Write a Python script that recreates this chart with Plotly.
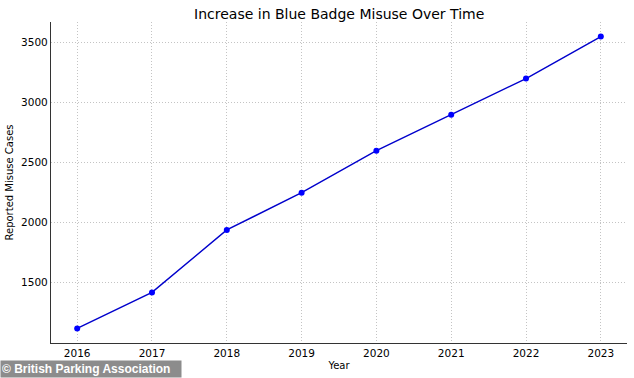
import plotly.graph_objects as go

years = [2016, 2017, 2018, 2019, 2020, 2021, 2022, 2023]
cases = [1120, 1420, 1940, 2250, 2600, 2900, 3200, 3550]
y_ticks = [1500, 2000, 2500, 3000, 3500]

fig = go.Figure()
fig.add_trace(go.Scatter(
    x=years, y=cases, mode="lines+markers",
    line=dict(color="#0000cc", width=1.4),
    marker=dict(color="#0000ff", size=6),
))

font = "DejaVu Sans, sans-serif"
fig.update_layout(
    width=634, height=378,
    margin=dict(l=51, r=7, t=22, b=35),
    paper_bgcolor="white", plot_bgcolor="white",
    showlegend=False,
    font=dict(family=font, size=10.5, color="black"),
    title=dict(text="Increase in Blue Badge Misuse Over Time", x=0.535, xanchor="center",
               y=0.962, yanchor="middle", font=dict(size=14, family=font)),
    xaxis=dict(
        range=[2015.65, 2023.35], tickvals=years, ticktext=[str(y) for y in years],
        showgrid=True, gridcolor="#c4c4c4", griddash="1px,2px", gridwidth=1,
        showline=True, linecolor="#333333", linewidth=1.3, zeroline=False,
        ticks="", automargin=False,
        title=dict(text="Year", standoff=4, font=dict(size=10)),
    ),
    yaxis=dict(
        range=[998.5, 3671.5], tickvals=y_ticks,
        showgrid=True, gridcolor="#c4c4c4", griddash="1px,2px", gridwidth=1,
        showline=True, linecolor="#333333", linewidth=1.3, zeroline=False,
        ticks="", automargin=False,
        title=dict(text="Reported Misuse Cases", standoff=5, font=dict(size=10)),
    ),
)

fig.add_annotation(
    xref="paper", yref="paper", x=-51/576, y=-35/321, xanchor="left", yanchor="bottom",
    text="<b>© British Parking Association</b>", showarrow=False,
    font=dict(family="Liberation Sans, Arial, sans-serif", size=12, color="white"),
    bgcolor="#8c8c8c", borderpad=1, width=178, height=14, align="left",
)

fig.write_html("out.html", config={"displayModeBar": False},
               post_script="document.body.style.margin='0';document.body.style.overflow='hidden';")
